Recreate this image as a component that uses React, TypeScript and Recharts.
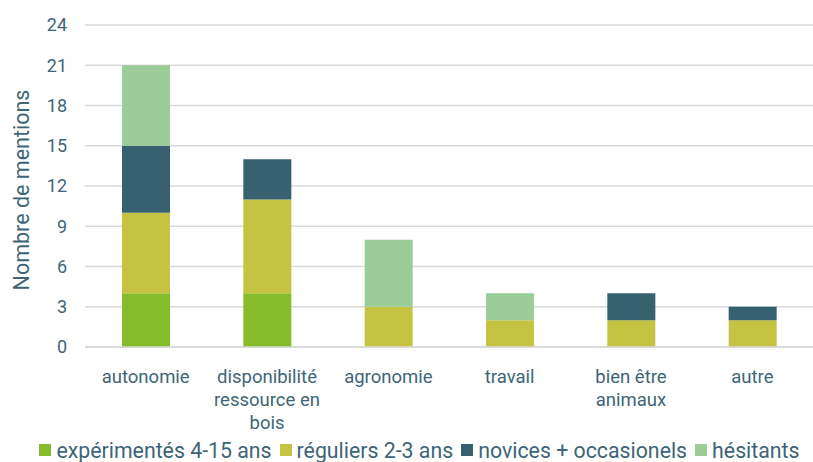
import React from "react";
import { BarChart, Bar, XAxis, YAxis, CartesianGrid, Legend } from "recharts";

const categories = [
  "autonomie",
  "disponibilité\nressource en\nbois",
  "agronomie",
  "travail",
  "bien être\nanimaux",
  "autre",
];
const experimentes = [4, 4, 0, 0, 0, 0];
const reguliers = [6, 7, 3, 2, 2, 2];
const novices = [5, 3, 0, 0, 2, 1];
const hesitants = [6, 0, 5, 2, 0, 0];
const yTicks = [0, 3, 6, 9, 12, 15, 18, 21, 24];

const series = [
  { key: "exp", name: "expérimentés 4-15 ans", values: experimentes, color: "#86BC29" },
  { key: "reg", name: "réguliers 2-3 ans", values: reguliers, color: "#C5C342" },
  { key: "nov", name: "novices + occasionels", values: novices, color: "#386170" },
  { key: "hes", name: "hésitants", values: hesitants, color: "#9CCC98" },
];

const data = categories.map((c, i) => {
  const row: any = { cat: c };
  series.forEach((s) => (row[s.key] = s.values[i]));
  return row;
});

const TEXT = "#3E6577";
const FONT = "Roboto, sans-serif";

const CatTick = (props: any) => {
  const { x, y, payload } = props;
  const lines = String(payload.value).split("\n");
  return (
    <g transform={`translate(${x},${y})`}>
      {lines.map((l: string, i: number) => (
        <text
          key={i}
          x={0}
          y={i * 23}
          dy={28}
          textAnchor="middle"
          fill={TEXT}
          fontSize={18.5}
          fontFamily={FONT}
        >
          {l}
        </text>
      ))}
    </g>
  );
};

const renderLegend = () => (
  <div
    style={{
      display: "flex",
      justifyContent: "center",
      alignItems: "center",
      height: 30,
      paddingTop: 6,
      paddingLeft: 26,
      boxSizing: "border-box",
      fontFamily: FONT,
      fontSize: 21.3,
      color: TEXT,
      whiteSpace: "nowrap",
    }}
  >
    {series.map((s, i) => (
      <span
        key={s.key}
        style={{ display: "inline-flex", alignItems: "center", marginRight: i < series.length - 1 ? 8 : 0 }}
      >
        <span
          style={{
            display: "inline-block",
            width: 12,
            height: 12,
            background: s.color,
            marginRight: 5,
          }}
        />
        {s.name}
      </span>
    ))}
  </div>
);

export default function App() {
  return (
    <div style={{ width: 813, height: 462, background: "#fff" }}>
      <style>{"body{margin:0}"}</style>
      <BarChart
        width={813}
        height={462}
        data={data}
        margin={{ top: 25, right: 0, left: 0, bottom: 0 }}
      >
        <CartesianGrid vertical={false} stroke="#D9D9D9" strokeWidth={1.5} />
        <XAxis
          dataKey="cat"
          tick={<CatTick />}
          tickLine={false}
          axisLine={{ stroke: "#D9D9D9", strokeWidth: 1.5 }}
          height={85}
          interval={0}
        />
        <YAxis
          domain={[0, 24]}
          ticks={yTicks}
          width={85}
          tickLine={false}
          axisLine={false}
          tickSize={0}
          tickMargin={18}
          tick={{ fill: TEXT, fontSize: 18, fontFamily: FONT }}
          label={{
            value: "Nombre de mentions",
            angle: -90,
            position: "insideLeft",
            dx: 16,
            dy: 4,
            style: { fill: TEXT, fontSize: 21.5, fontFamily: FONT, textAnchor: "middle" },
          }}
        />
        <Legend content={renderLegend} verticalAlign="bottom" height={30} />
        {series.map((s) => (
          <Bar
            key={s.key}
            dataKey={s.key}
            name={s.name}
            stackId="a"
            fill={s.color}
            barSize={48}
            isAnimationActive={false}
          />
        ))}
      </BarChart>
    </div>
  );
}
